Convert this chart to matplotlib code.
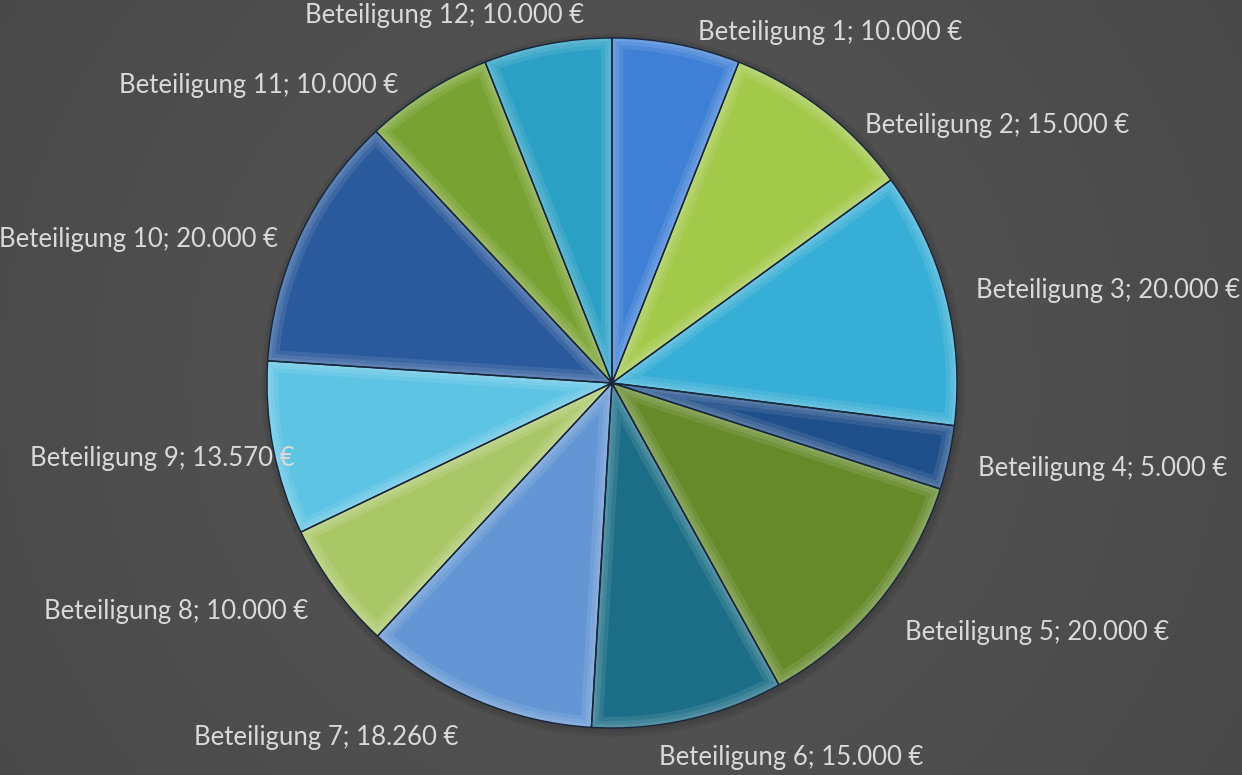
import numpy as np
import matplotlib.pyplot as plt
from matplotlib.patches import Wedge, Circle

# Daten
namen = ['Beteiligung %d' % i for i in range(1, 13)]
werte = [10000, 15000, 20000, 5000, 20000, 15000, 18260, 10000, 13570, 20000, 10000, 10000]
farben = ['#3f80d6', '#a2c94a', '#36aed6', '#1f4f8a', '#668a2a', '#1c6e86',
          '#6496d4', '#aac768', '#5ec4e4', '#2a5a9c', '#78a232', '#2aa0c4']

# Lage der Beschriftungen (Pixel im Bild, Ankerpunkt / Ausrichtung)
label_pos = [(698, 32), (865, 125), (976, 290), (978, 468), (905, 632), (659, 757),
             (458, 738), (308, 612), (294, 458), (278, 240), (398, 85), (584, 16)]
label_ha = ['left'] * 6 + ['right'] * 6


def euro(v):
    return '{:,.0f} €'.format(v).replace(',', '.')


labels = ['%s; %s' % (n, euro(w)) for n, w in zip(namen, werte)]

W, H = 1242, 775
cx, cy, R = 612, 383, 345

fig = plt.figure(figsize=(W / 100, H / 100), dpi=100)

# Hintergrund: radialer Verlauf
bg = fig.add_axes([0, 0, 1, 1])
yy, xx = np.mgrid[0:H, 0:W]
d = np.sqrt((xx - cx) ** 2 + (yy - cy) ** 2) / np.sqrt(cx ** 2 + cy ** 2)
g = 0.345 - 0.06 * np.clip(d, 0, 1)
bg.imshow(np.dstack([g, g, g]), extent=[0, W, H, 0], aspect='auto')
bg.axis('off')

ax = fig.add_axes([0, 0, 1, 1])
ax.set_facecolor('none')

# leichter Schatten hinter dem Kreis
for k in range(4):
    ax.add_patch(Circle((0.004, -0.006), 1.0 + 0.006 * k, color='black', alpha=0.04, zorder=0))

wedges, texts = ax.pie(werte, labels=labels, colors=farben, startangle=90,
                       counterclock=False, labeldistance=1.08,
                       wedgeprops=dict(edgecolor='none', linewidth=0),
                       textprops=dict(color='#d9d9d9', fontsize=18.5, family=['Lato', 'DejaVu Sans']))

# Abgeschraegte Kanten: weicher heller Rand innen, dunkle Trennlinie
for w in wedges:
    for lw in (16, 10, 5):
        rand = Wedge(w.center, w.r, w.theta1, w.theta2, facecolor='none', edgecolor='white',
                     alpha=0.09, linewidth=lw, zorder=w.get_zorder() + 0.1)
        ax.add_patch(rand)
        rand.set_clip_path(w)
    ax.add_patch(Wedge(w.center, w.r, w.theta1, w.theta2, facecolor='none',
                       edgecolor='#17263a', linewidth=1.0, zorder=w.get_zorder() + 0.2))

for t, (px, py), ha in zip(texts, label_pos, label_ha):
    t.set_position(((px - cx) / R, (cy - py) / R))
    t.set_ha(ha)
    t.set_va('center')
    t.set_zorder(5)

ax.set_xlim(-cx / R, (W - cx) / R)
ax.set_ylim(-(H - cy) / R, cy / R)
ax.set_aspect('equal')
ax.axis('off')

fig.savefig('out.png', dpi=100)
